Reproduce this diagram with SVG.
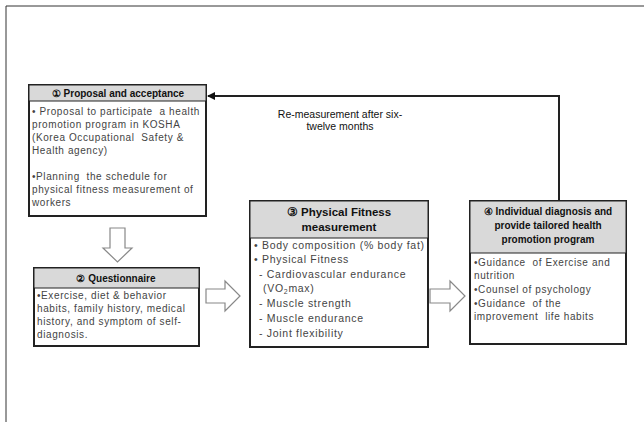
<svg xmlns="http://www.w3.org/2000/svg" width="644" height="422" viewBox="0 0 644 422">
<defs>
<style>
.box{fill:#fff;stroke:#222;stroke-width:2}
.hdr{fill:#d9d9d9;stroke:#222;stroke-width:1}
.ttl{font-family:"Liberation Sans",Arial,sans-serif;font-size:10px;font-weight:bold;fill:#111;text-anchor:middle}
.txt{font-family:"Liberation Sans",Arial,sans-serif;font-size:10px;letter-spacing:0.6px;fill:#444;white-space:pre}
.txt3{font-family:"Liberation Sans",Arial,sans-serif;font-size:10.5px;letter-spacing:0.7px;fill:#444;white-space:pre}
.blk{fill:#fff;stroke:#888;stroke-width:1.2}
.con{fill:none;stroke:#222;stroke-width:2}
.lbl{font-family:"Liberation Sans",Arial,sans-serif;font-size:10.5px;fill:#111;text-anchor:middle}
</style>
<marker id="ah" markerWidth="8" markerHeight="8" refX="7" refY="4" orient="auto" markerUnits="userSpaceOnUse">
<path d="M0,0 L8,4 L0,8 Z" fill="#111"/>
</marker>
</defs>
<rect width="644" height="422" fill="#fff"/>
<path d="M6,422 L6,6 L644,6" fill="none" stroke="#333" stroke-width="1"/>

<g id="connectors">
<polyline class="con" points="559,201 559,96 208,96" marker-end="url(#ah)"/>
<text class="lbl" x="340" y="118">Re-measurement after six-</text>
<text class="lbl" x="340" y="130">twelve months</text>
<path class="blk" d="M110,228 L125,228 L125,248 L132,248 L117.5,262 L103,248 L110,248 Z"/>
<path class="blk" d="M206,289 L225,289 L225,281 L240,296 L225,311 L225,303 L206,303 Z"/>
<path class="blk" d="M430,289 L450,289 L450,281 L465,296 L450,311 L450,303 L430,303 Z"/>
</g>

<g id="node1">
<rect class="box" x="29" y="85" width="177" height="131"/>
<rect class="hdr" x="29" y="85" width="177" height="16"/>
<text class="ttl" x="118" y="97">① Proposal and acceptance</text>
<text class="txt" x="32" y="115">• Proposal to participate  a health</text>
<text class="txt" x="32" y="128">promotion program in KOSHA</text>
<text class="txt" x="32" y="141">(Korea Occupational  Safety &amp;</text>
<text class="txt" x="32" y="154">Health agency)</text>
<text class="txt" x="32" y="180">•Planning  the schedule for</text>
<text class="txt" x="32" y="193">physical fitness measurement of</text>
<text class="txt" x="32" y="206">workers</text>
</g>

<g id="node2">
<rect class="box" x="34" y="268" width="165" height="78"/>
<rect class="hdr" x="34" y="268" width="165" height="20"/>
<text class="ttl" x="116" y="282">② Questionnaire</text>
<text class="txt" x="37" y="299">•Exercise, diet &amp; behavior</text>
<text class="txt" x="37" y="312">habits, family history, medical</text>
<text class="txt" x="37" y="325">history, and symptom of self-</text>
<text class="txt" x="37" y="338">diagnosis.</text>
</g>

<g id="node3">
<rect class="box" x="250" y="201" width="178" height="146"/>
<rect class="hdr" x="250" y="201" width="178" height="37"/>
<text class="ttl" x="339" y="216" style="font-size:11.5px">③ Physical Fitness</text>
<text class="ttl" x="339" y="231" style="font-size:11.5px">measurement</text>
<text class="txt3" x="254" y="249">• Body composition (% body fat)</text>
<text class="txt3" x="254" y="263">• Physical Fitness</text>
<text class="txt3" x="259" y="278">- Cardiovascular endurance</text>
<text class="txt3" x="263" y="292">(VO<tspan font-size="7" dy="2">2</tspan><tspan dy="-2">max)</tspan></text>
<text class="txt3" x="259" y="307">- Muscle strength</text>
<text class="txt3" x="259" y="322">- Muscle endurance</text>
<text class="txt3" x="259" y="337">- Joint flexibility</text>
</g>

<g id="node4">
<rect class="box" x="470" y="201" width="156" height="143"/>
<rect class="hdr" x="470" y="201" width="156" height="52"/>
<text class="ttl" x="548" y="215">④ Individual diagnosis and</text>
<text class="ttl" x="548" y="229">provide tailored health</text>
<text class="ttl" x="548" y="243">promotion program</text>
<text class="txt" x="474" y="266">•Guidance  of Exercise and</text>
<text class="txt" x="474" y="279">nutrition</text>
<text class="txt" x="474" y="293">•Counsel of psychology</text>
<text class="txt" x="474" y="307">•Guidance  of the</text>
<text class="txt" x="474" y="320">improvement  life habits</text>
</g>
</svg>
